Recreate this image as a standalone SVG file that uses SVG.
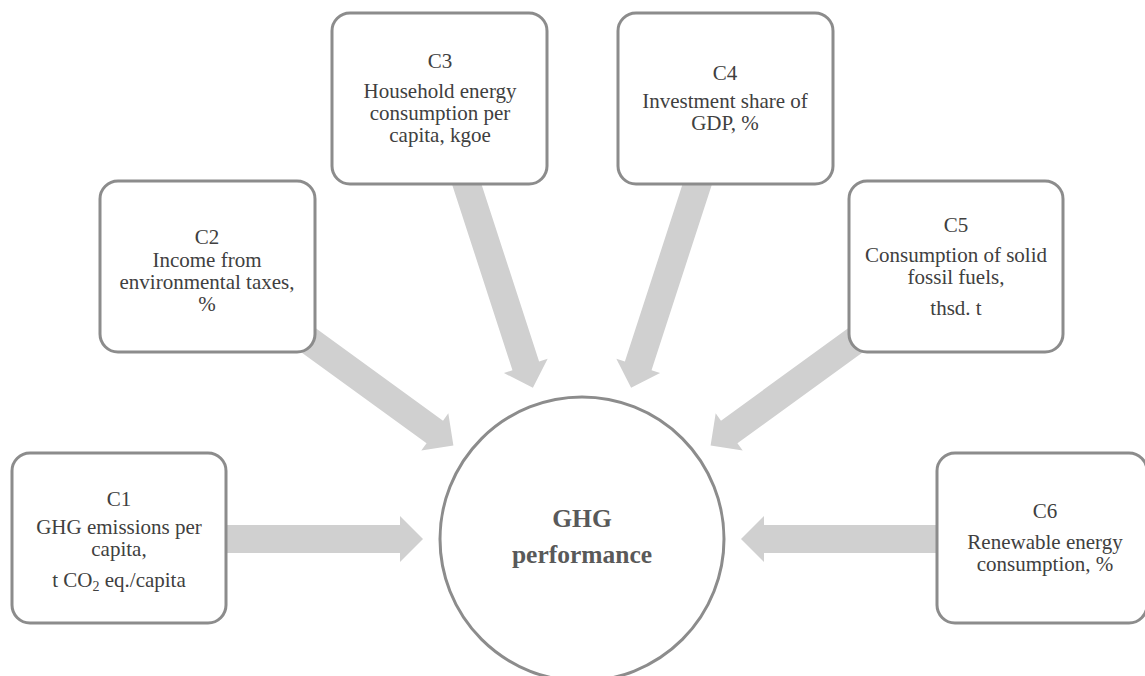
<svg xmlns="http://www.w3.org/2000/svg" xmlns:xlink="http://www.w3.org/1999/xlink" width="1145" height="676" viewBox="0 0 1145 676">
  <style>
    .box { fill: #ffffff; stroke: #8c8c8c; stroke-width: 3; }
    .arrow { fill: #d0d0d0; stroke: none; }
    .t { font-family: "Liberation Serif", "Times New Roman", serif; font-size: 21px; fill: #404040; text-anchor: middle; }
    .b { font-family: "Liberation Serif", "Times New Roman", serif; font-size: 25.5px; font-weight: bold; fill: #595959; text-anchor: middle; }
  </style>
  <defs>
    <path id="arr" class="arrow" d="M0,0 L-23,-23 L-23,-14 L-241,-14 L-241,14 L-23,14 L-23,23 Z"/>
  </defs>
  <rect width="1145" height="676" fill="#ffffff"/>
  <g id="connectors">
    <use xlink:href="#arr" href="#arr" transform="translate(423,539) rotate(0)"/>
    <use xlink:href="#arr" href="#arr" transform="translate(453.4,445.5) rotate(36)"/>
    <use xlink:href="#arr" href="#arr" transform="translate(532.9,387.8) rotate(72)"/>
    <use xlink:href="#arr" href="#arr" transform="translate(631.1,387.8) rotate(108)"/>
    <use xlink:href="#arr" href="#arr" transform="translate(710.6,445.5) rotate(144)"/>
    <use xlink:href="#arr" href="#arr" transform="translate(741,539) rotate(180)"/>
  </g>
  <g id="center">
    <circle cx="582" cy="539" r="142" class="box"/>
    <text class="b" x="582" y="527">GHG</text>
    <text class="b" x="582" y="563">performance</text>
  </g>
  <g id="c1">
    <rect x="12" y="453" width="214" height="170" rx="18" class="box"/>
    <text class="t" x="119" y="506">C1</text>
    <text class="t" x="119" y="533.5">GHG emissions per</text>
    <text class="t" x="119" y="555.5">capita,</text>
    <text class="t" x="119" y="587">t CO<tspan font-size="14" dy="4">2</tspan><tspan dy="-4"> eq./capita</tspan></text>
  </g>
  <g id="c2">
    <rect x="100" y="181" width="215" height="171" rx="18" class="box"/>
    <text class="t" x="207" y="244">C2</text>
    <text class="t" x="207" y="266.5">Income from</text>
    <text class="t" x="207" y="288.5">environmental taxes,</text>
    <text class="t" x="207" y="310.5">%</text>
  </g>
  <g id="c3">
    <rect x="332" y="13" width="215" height="171" rx="18" class="box"/>
    <text class="t" x="440" y="68">C3</text>
    <text class="t" x="440" y="98">Household energy</text>
    <text class="t" x="440" y="120">consumption per</text>
    <text class="t" x="440" y="142">capita, kgoe</text>
  </g>
  <g id="c4">
    <rect x="618" y="13" width="215" height="171" rx="18" class="box"/>
    <text class="t" x="725" y="80">C4</text>
    <text class="t" x="725" y="108">Investment share of</text>
    <text class="t" x="725" y="130">GDP, %</text>
  </g>
  <g id="c5">
    <rect x="849" y="181" width="214" height="171" rx="18" class="box"/>
    <text class="t" x="956" y="232">C5</text>
    <text class="t" x="956" y="261.5">Consumption of solid</text>
    <text class="t" x="956" y="283.5">fossil fuels,</text>
    <text class="t" x="956" y="315">thsd. t</text>
  </g>
  <g id="c6">
    <rect x="937" y="453" width="210" height="170" rx="18" class="box"/>
    <text class="t" x="1045" y="518">C6</text>
    <text class="t" x="1045" y="549">Renewable energy</text>
    <text class="t" x="1045" y="571">consumption, %</text>
  </g>
</svg>
